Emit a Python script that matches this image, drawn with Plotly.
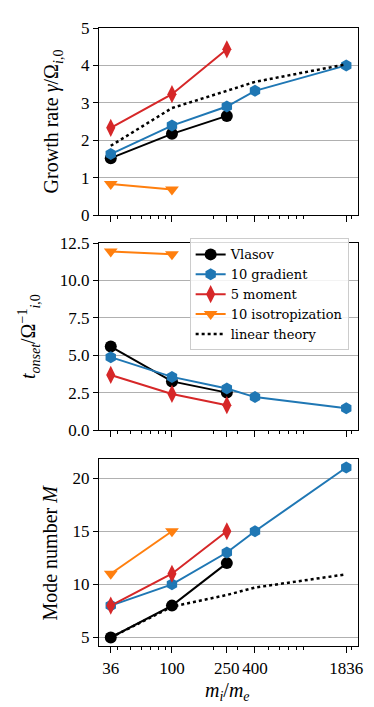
import plotly.graph_objects as go

# mass ratios m_i/m_e
mass_ratio = [36, 100, 250, 400, 1836]
mass_ticks = [36, 100, 250, 400, 1836]
minor_ticks = [40, 50, 60, 70, 80, 90, 200, 300, 500, 600, 700, 800, 900, 2000]

# growth rate gamma / Omega_i0
vlasov_gamma = [1.52, 2.17, 2.65]
grad_gamma = [1.63, 2.39, 2.90, 3.32, 4.00]
five_gamma = [2.33, 3.23, 4.43]
iso_gamma = [0.83, 0.68]
linear_gamma = [1.85, 2.86, 3.32, 3.56, 4.03]

# onset time t_onset * Omega_i0
vlasov_t = [5.58, 3.25, 2.50]
grad_t = [4.87, 3.55, 2.77, 2.20, 1.45]
five_t = [3.68, 2.41, 1.66]
iso_t = [11.94, 11.74]

# mode number M
vlasov_m = [5, 8, 12]
grad_m = [8, 10, 13, 15, 21]
five_m = [8, 11, 15]
iso_m = [11, 15]
linear_m = [5.0, 7.9, 9.0, 9.7, 10.95]

FONT = "Liberation Serif"
styles = {
    "Vlasov": dict(color="black", symbol="circle", size=12),
    "10 gradient": dict(color="#1f77b4", symbol="hexagon", size=12),
    "5 moment": dict(color="#d62728", symbol="diamond-tall", size=13),
    "10 isotropization": dict(color="#ff7f0e", symbol="triangle-down", size=12),
}

panels = [
    ("x", "y", {"Vlasov": vlasov_gamma, "10 gradient": grad_gamma,
                "5 moment": five_gamma, "10 isotropization": iso_gamma}, linear_gamma),
    ("x2", "y2", {"Vlasov": vlasov_t, "10 gradient": grad_t,
                  "5 moment": five_t, "10 isotropization": iso_t}, None),
    ("x3", "y3", {"Vlasov": vlasov_m, "10 gradient": grad_m,
                  "5 moment": five_m, "10 isotropization": iso_m}, linear_m),
]

fig = go.Figure()
for i, (xa, ya, series, linear) in enumerate(panels):
    for name, vals in series.items():
        st = styles[name]
        fig.add_trace(go.Scatter(
            x=mass_ratio[:len(vals)], y=vals, mode="lines+markers", name=name,
            xaxis=xa, yaxis=ya, legendgroup=name, showlegend=(i == 1),
            line=dict(color=st["color"], width=2),
            marker=dict(symbol=st["symbol"], size=st["size"], color=st["color"]),
        ))
    if linear is not None:
        fig.add_trace(go.Scatter(
            x=mass_ratio, y=linear, mode="lines", name="linear theory",
            xaxis=xa, yaxis=ya, legendgroup="linear", showlegend=False,
            line=dict(color="black", width=2.5, dash="dot"),
        ))
# legend entry for linear theory (panel 2 has no curve)
fig.add_trace(go.Scatter(
    x=[None], y=[None], mode="lines", name="linear theory", xaxis="x2", yaxis="y2",
    legendgroup="linear", line=dict(color="black", width=2.5, dash="dot"),
))

xcommon = dict(
    type="log", range=[1.471, 3.349], tickvals=mass_ticks,
    ticktext=[str(v) for v in mass_ticks], ticks="outside", ticklen=6,
    tickcolor="black", showline=True, linecolor="black", linewidth=1.2,
    mirror=True, showgrid=False, zeroline=False,
    minor=dict(tickvals=minor_ticks, ticks="outside", ticklen=3, tickcolor="black", showgrid=False),
    tickfont=dict(family=FONT, size=17, color="black"),
)
ycommon = dict(
    ticks="outside", ticklen=5, tickcolor="black", showline=True, linecolor="black",
    linewidth=1.2, mirror=True, showgrid=True, gridcolor="#b0b0b0", gridwidth=1,
    zeroline=False, tickfont=dict(family=FONT, size=17, color="black"),
)

# axis titles placed by hand, like matplotlib labels
titles = [
    dict(text="Growth rate <i>γ</i>/Ω<sub><i>i</i>,0</sub>", x=-0.178, y=0.8487, textangle=-90),
    dict(text="<i>t<sub>onset</sub></i>/Ω<sup>−1</sup><sub><i>i</i>,0</sub>", x=-0.272, y=0.5008, textangle=-90),
    dict(text="Mode number <i>M</i>", x=-0.189, y=0.1513, textangle=-90),
    dict(text="<i>m<sub>i</sub></i>/<i>m<sub>e</sub></i>", x=0.498, y=-0.074, textangle=0),
]
annotations = [dict(t, xref="paper", yref="paper", xanchor="center", yanchor="middle",
                    showarrow=False, font=dict(family=FONT, size=20, color="black"))
               for t in titles]

fig.update_layout(
    width=374, height=707, paper_bgcolor="white", plot_bgcolor="white",
    margin=dict(l=91, r=24, t=20, b=69),
    font=dict(family=FONT, size=17, color="black"),
    xaxis=dict(xcommon, domain=[0, 1], anchor="y", showticklabels=False),
    xaxis2=dict(xcommon, domain=[0, 1], anchor="y2", matches="x", showticklabels=False),
    xaxis3=dict(xcommon, domain=[0, 1], anchor="y3", matches="x"),
    yaxis=dict(ycommon, domain=[0.6974, 1.0], range=[0, 5], dtick=1),
    yaxis2=dict(ycommon, domain=[0.3495, 0.6521], range=[0, 12.5], dtick=2.5, tickformat=".1f"),
    yaxis3=dict(ycommon, domain=[0, 0.3026], range=[4.2, 21.8], tickvals=[5, 10, 15, 20]),
    annotations=annotations,
    legend=dict(x=0.35, y=0.6595, xanchor="left", yanchor="top",
                bgcolor="rgba(255,255,255,0.85)", bordercolor="#cccccc", borderwidth=1,
                font=dict(family="DejaVu Serif", size=13), tracegroupgap=0),
    showlegend=True,
)

fig.write_html("out.html")
